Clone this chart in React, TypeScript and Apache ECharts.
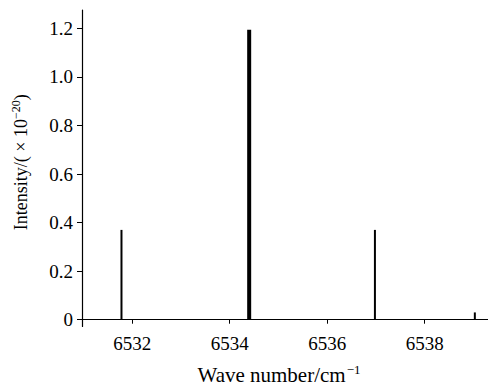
import React, { useEffect, useRef } from "react";
import * as echarts from "echarts";

const waveNumbers = [6531.78, 6534.4, 6536.98, 6539.03];
const intensities = [0.37, 1.195, 0.37, 0.03];
const lineWidths = [2, 4, 2, 2];
const xTicks = [6532, 6534, 6536, 6538];
const yTicks = [0, 0.2, 0.4, 0.6, 0.8, 1.0, 1.2];

const FONT = "Liberation Serif";

export default function App() {
  const ref = useRef<HTMLDivElement>(null);
  useEffect(() => {
    if (!ref.current) return;
    const chart = echarts.init(ref.current, null, { renderer: "svg" });
    const data = waveNumbers.map((x, i) => [x, intensities[i], lineWidths[i]]);
    const tickRich = { t: { fontFamily: FONT, fontSize: 19, color: "#000" } };
    chart.setOption({
      animation: false,
      backgroundColor: "#ffffff",
      textStyle: { fontFamily: FONT, color: "#000" },
      grid: { left: 82, right: 0, top: 10, bottom: 53 },
      xAxis: {
        type: "value",
        min: 6530.97,
        max: 6539.3,
        name: "{b|Wave number/cm}{s|−1}",
        nameLocation: "middle",
        nameGap: 36,
        nameTextStyle: {
          padding: [0, 12, 0, 0],
          rich: {
            b: { fontFamily: FONT, fontSize: 21, color: "#000" },
            s: { fontFamily: FONT, fontSize: 13, color: "#000", padding: [0, 0, 11, 1] },
          },
        },
        splitLine: { show: false },
        axisLine: { lineStyle: { color: "#000", width: 1.2 } },
        axisTick: { customValues: xTicks, length: 4, lineStyle: { color: "#000" } },
        axisLabel: {
          customValues: xTicks,
          fontFamily: FONT,
          fontSize: 19,
          color: "#000",
          margin: 7,
          rich: tickRich,
          formatter: (v: number) => "{t|" + String(v) + "}",
        },
      },
      yAxis: {
        type: "value",
        min: -0.028,
        max: 1.276,
        name: "{b|Intensity/( × 10}{s|−20}{b|)}",
        nameLocation: "middle",
        nameGap: 50,
        nameTextStyle: {
          padding: [0, 0, 0, 12],
          rich: {
            b: { fontFamily: FONT, fontSize: 18, color: "#000" },
            s: { fontFamily: FONT, fontSize: 12, color: "#000", padding: [0, 0, 10, 0] },
          },
        },
        splitLine: { show: false },
        axisLine: { show: true, lineStyle: { color: "#000", width: 1.2 } },
        axisTick: { show: true, customValues: yTicks, length: 5, lineStyle: { color: "#000" } },
        axisLabel: {
          customValues: yTicks,
          fontFamily: FONT,
          fontSize: 19,
          color: "#000",
          margin: 9,
          rich: tickRich,
          formatter: (v: number) => "{t|" + (v === 0 ? "0" : v.toFixed(1)) + "}",
        },
      },
      series: [
        {
          type: "custom",
          data,
          renderItem: (params: any, api: any) => {
            const x = api.value(0);
            const y = api.value(1);
            const w = api.value(2);
            const p0 = api.coord([x, 0]);
            const p1 = api.coord([x, y]);
            return {
              type: "line",
              shape: { x1: p0[0], y1: p0[1], x2: p1[0], y2: p1[1] },
              style: { stroke: "#000", lineWidth: w },
            };
          },
        },
      ],
    });
    return () => chart.dispose();
  }, []);
  return <div ref={ref} style={{ width: 488, height: 390, position: "absolute", left: 0, top: 0 }} />;
}
